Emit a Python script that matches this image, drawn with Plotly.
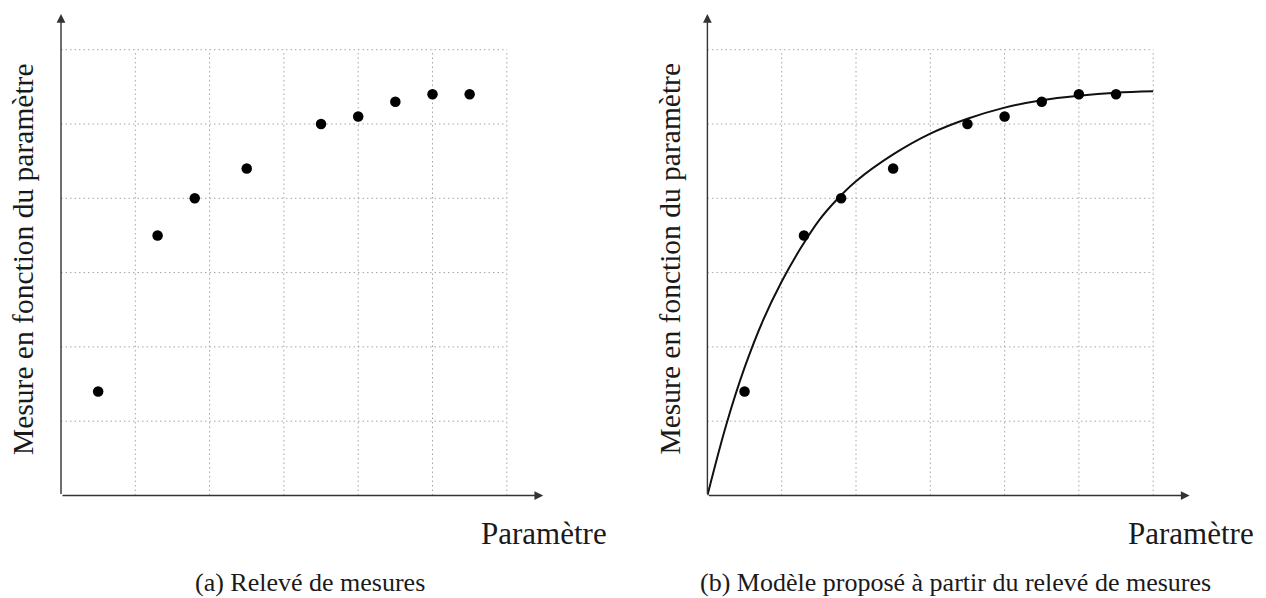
import plotly.graph_objects as go

# ---- data ----
param = [0.5, 1.3, 1.8, 2.5, 3.5, 4.0, 4.5, 5.0, 5.5]
mesure = [1.4, 3.5, 4.0, 4.4, 5.0, 5.1, 5.3, 5.4, 5.4]

# model curve at regular steps
model_x = [0, 0.25, 0.5, 0.75, 1.0, 1.25, 1.5, 1.75, 2.0,
           2.5, 3.0, 3.5, 4.0, 4.5, 5.0, 5.5, 6.0]
model_y = [0, 0.94, 1.72, 2.36, 2.88, 3.32, 3.70, 3.99, 4.23,
           4.59, 4.87, 5.07, 5.22, 5.32, 5.38, 5.42, 5.44]

grid_ticks = [1, 2, 3, 4, 5, 6]
grid_max = 6

x_label = "Paramètre"
y_label = "Mesure en fonction du paramètre"
caption_a = "(a) Relevé de mesures"
caption_b = "(b) Modèle proposé à partir du relevé de mesures"

W, H = 1266, 598
FONT = "Liberation Serif"
TXT = "#1a1a1a"

fig = go.Figure()

fig.add_trace(go.Scatter(x=param, y=mesure, mode="markers",
                         marker=dict(size=10.5, color="black"),
                         xaxis="x", yaxis="y", cliponaxis=False,
                         hoverinfo="skip", showlegend=False))

fig.add_trace(go.Scatter(x=model_x, y=model_y, mode="lines",
                         line=dict(color="#111111", width=2, shape="spline", smoothing=1.0),
                         xaxis="x2", yaxis="y2", cliponaxis=False,
                         hoverinfo="skip", showlegend=False))
fig.add_trace(go.Scatter(x=param, y=mesure, mode="markers",
                         marker=dict(size=10.5, color="black"),
                         xaxis="x2", yaxis="y2", cliponaxis=False,
                         hoverinfo="skip", showlegend=False))

def px_x(p):
    return p / W

def px_y(p):
    return 1 - p / H

RMAX = 6.5
unit = 74.3
ydom = [px_y(495.5), px_y(495.5 - RMAX * unit)]
axis_common = dict(range=[0, RMAX], showticklabels=False, ticks="",
                   showline=False, zeroline=False, showgrid=False,
                   fixedrange=True)

fig.update_layout(
    width=W, height=H,
    margin=dict(l=0, r=0, t=0, b=0),
    paper_bgcolor="white", plot_bgcolor="rgba(0,0,0,0)",
    xaxis=dict(domain=[px_x(61), px_x(61 + RMAX * unit)], anchor="y", **axis_common),
    yaxis=dict(domain=ydom, anchor="x", **axis_common),
    xaxis2=dict(domain=[px_x(707.4), px_x(707.4 + RMAX * unit)], anchor="y2", **axis_common),
    yaxis2=dict(domain=ydom, anchor="x2", **axis_common),
    showlegend=False,
)

grid_line = dict(color="#a6a6a6", width=1, dash="1.5px,3px")
shapes = []
for xr, yr in (("x", "y"), ("x2", "y2")):
    for t in grid_ticks:
        shapes.append(dict(type="line", xref=xr, yref=yr, x0=t, x1=t, y0=0, y1=grid_max,
                           line=grid_line, layer="below"))
        shapes.append(dict(type="line", xref=xr, yref=yr, x0=0, x1=grid_max, y0=t, y1=t,
                           line=grid_line, layer="below"))
fig.update_layout(shapes=shapes)

annotations = []
for xr, yr in (("x", "y"), ("x2", "y2")):
    # horizontal axis arrow
    annotations.append(dict(x=6.49, y=0, ax=0, ay=0, xref=xr, yref=yr, axref=xr, ayref=yr,
                            text="", showarrow=True, arrowhead=2, arrowsize=1.25,
                            arrowwidth=1.4, arrowcolor="#333333", standoff=0, startstandoff=0))
    # vertical axis arrow
    annotations.append(dict(x=0, y=6.48, ax=0, ay=0, xref=xr, yref=yr, axref=xr, ayref=yr,
                            text="", showarrow=True, arrowhead=2, arrowsize=1.25,
                            arrowwidth=1.4, arrowcolor="#333333", standoff=0, startstandoff=0))

def text_ann(txt, xp, yp, size, angle=0):
    return dict(text=txt, x=px_x(xp), y=px_y(yp), xref="paper", yref="paper",
                xanchor="center", yanchor="middle", showarrow=False, textangle=angle,
                font=dict(family=FONT, size=size, color=TXT))

annotations += [
    text_ann(y_label, 23, 259, 29.5, -90),
    text_ann(y_label, 669.5, 259, 29.5, -90),
    text_ann(x_label, 544, 533, 31),
    text_ann(x_label, 1190.5, 533, 31),
    text_ann(caption_a, 310, 582, 26),
    text_ann(caption_b, 956, 582, 26),
]
fig.update_layout(annotations=annotations)

fig.write_html("out.html", config=dict(displayModeBar=False))
